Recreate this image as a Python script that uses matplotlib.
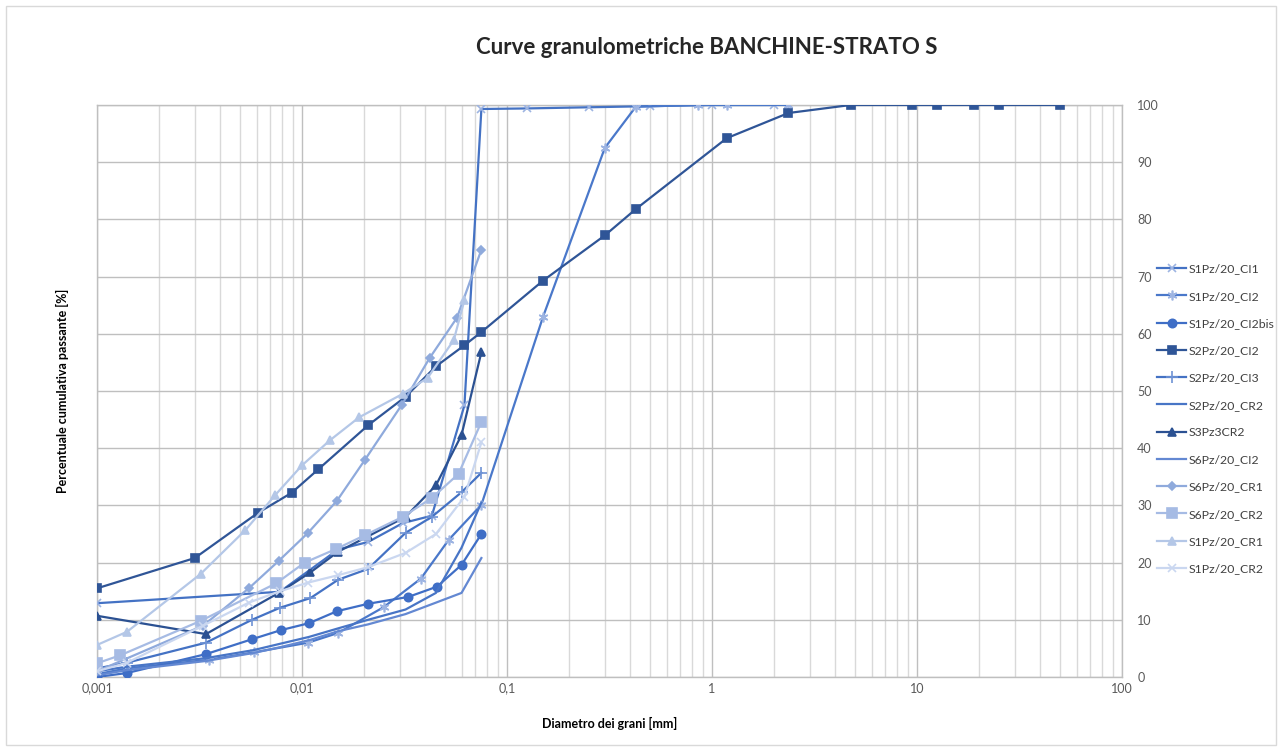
import matplotlib.pyplot as plt
from matplotlib.patches import Rectangle
from matplotlib.ticker import FixedLocator, NullFormatter

plt.rcParams['font.family'] = ['Lato', 'DejaVu Sans']

# diametri [mm] e passante [%]
d_ci1 = [0.001, 0.0078, 0.015, 0.021, 0.031, 0.043, 0.062, 0.075, 0.125, 0.25, 0.5, 1.0, 2.0]
p_ci1 = [12.9, 14.9, 22.3, 23.6, 26.9, 28.2, 47.5, 99.3, 99.4, 99.6, 99.8, 100, 100]

d_ci2 = [0.001, 0.0014, 0.0035, 0.0058, 0.0107, 0.015, 0.025, 0.038, 0.052, 0.075,
         0.15, 0.3, 0.425, 0.85, 1.18, 2.36]
p_ci2 = [0.5, 1.5, 3.0, 4.3, 6.0, 7.7, 12.2, 17.2, 24.0, 30.1, 63, 92.5, 99.7, 100, 100, 100]

d_ci2bis = [0.001, 0.0014, 0.0034, 0.0057, 0.0079, 0.0108, 0.0148, 0.021, 0.033, 0.0456, 0.06, 0.075]
p_ci2bis = [0.0, 0.7, 4.0, 6.6, 8.2, 9.4, 11.5, 12.8, 14.0, 15.8, 19.6, 25.0]

d_s2ci2 = [0.001, 0.003, 0.0061, 0.0089, 0.012, 0.021, 0.032, 0.045, 0.062, 0.075, 0.15, 0.3,
           0.425, 1.18, 2.36, 4.75, 9.5, 12.5, 19, 25, 50]
p_s2ci2 = [15.5, 20.8, 28.7, 32.2, 36.3, 44.0, 49.0, 54.3, 58.0, 60.3, 69.3, 77.2,
           81.8, 94.2, 98.6, 100, 100, 100, 100, 100, 100]

d_ci3 = [0.001, 0.0014, 0.0034, 0.0057, 0.0078, 0.011, 0.015, 0.021, 0.032, 0.043, 0.06, 0.075]
p_ci3 = [1.5, 2.5, 6.0, 10.0, 12.1, 13.8, 17.0, 18.9, 25.2, 28.0, 32.3, 35.7]

d_s2cr2 = [0.001, 0.0014, 0.0034, 0.0058, 0.0078, 0.0108, 0.015, 0.021, 0.032, 0.045, 0.06, 0.075]
p_s2cr2 = [1.0, 1.8, 3.3, 4.7, 5.8, 7.0, 8.5, 10.0, 11.8, 14.7, 22.6, 30.5]

d_s3cr2 = [0.001, 0.0034, 0.0077, 0.011, 0.015, 0.021, 0.032, 0.045, 0.06, 0.075]
p_s3cr2 = [10.7, 7.5, 14.7, 18.3, 21.9, 24.6, 28.0, 33.5, 42.3, 56.8]

d_s6ci2 = [0.001, 0.0014, 0.0034, 0.0058, 0.0078, 0.011, 0.015, 0.021, 0.032, 0.045, 0.06, 0.075]
p_s6ci2 = [0.3, 1.2, 2.8, 4.2, 5.2, 6.5, 8.0, 9.2, 11.0, 13.0, 14.7, 20.8]

d_s6cr1 = [0.001, 0.0033, 0.0055, 0.0077, 0.0107, 0.0148, 0.0203, 0.0307, 0.042, 0.057, 0.075]
p_s6cr1 = [1.0, 9.0, 15.5, 20.3, 25.2, 30.8, 38.0, 47.6, 55.8, 62.8, 74.7]

d_s6cr2 = [0.001, 0.0013, 0.0032, 0.0075, 0.0103, 0.0147, 0.0203, 0.031, 0.043, 0.058, 0.075]
p_s6cr2 = [2.4, 3.8, 9.8, 16.4, 20.0, 22.4, 24.8, 28.0, 31.3, 35.5, 44.6]

d_s1cr1 = [0.001, 0.0014, 0.0032, 0.0053, 0.0074, 0.010, 0.0137, 0.019, 0.031, 0.041, 0.055, 0.062]
p_s1cr1 = [5.6, 7.9, 18.0, 25.7, 31.8, 37.0, 41.4, 45.4, 49.5, 52.3, 58.9, 65.9]

d_s1cr2 = [0.001, 0.0014, 0.0033, 0.0055, 0.0078, 0.0107, 0.015, 0.021, 0.032, 0.045, 0.062, 0.075]
p_s1cr2 = [1.0, 2.5, 9.0, 13.0, 15.0, 16.5, 17.8, 19.2, 21.7, 25.0, 31.5, 41.0]

labels = ['S1Pz/20_CI1', 'S1Pz/20_CI2', 'S1Pz/20_CI2bis', 'S2Pz/20_CI2', 'S2Pz/20_CI3',
          'S2Pz/20_CR2', 'S3Pz3CR2', 'S6Pz/20_CI2', 'S6Pz/20_CR1', 'S6Pz/20_CR2',
          'S1Pz/20_CR1', 'S1Pz/20_CR2']
xs = [d_ci1, d_ci2, d_ci2bis, d_s2ci2, d_ci3, d_s2cr2, d_s3cr2, d_s6ci2, d_s6cr1, d_s6cr2, d_s1cr1, d_s1cr2]
ys = [p_ci1, p_ci2, p_ci2bis, p_s2ci2, p_ci3, p_s2cr2, p_s3cr2, p_s6ci2, p_s6cr1, p_s6cr2, p_s1cr1, p_s1cr2]

colors = ['#4472C4', '#4A78CA', '#3F6EC6', '#2F5597', '#4472C4', '#4875C6',
          '#2B5192', '#6388D2', '#8FAADC', '#A6BBE4', '#B4C7E7', '#CAD7F0']
markers = ['x', (6, 2, 0), 'o', 's', '+', None, '^', None, 'D', 's', '^', 'x']
msizes = [6, 7, 6, 6, 8, 0, 6, 0, 4, 7, 6, 6]
mcolors = ['#9DB4E2', '#9DB4E2', '#3F6EC6', '#2F5597', '#6E92D4', '#4875C6',
           '#2B5192', '#6388D2', '#8FAADC', '#A6BBE4', '#B4C7E7', '#CAD7F0']

fig = plt.figure(figsize=(12.82, 7.51), dpi=100)
ax = fig.add_axes([97 / 1282, 1 - 677 / 751, (1122 - 97) / 1282, (677 - 105) / 751])

for i in range(len(labels)):
    ax.plot(xs[i], ys[i], color=colors[i], lw=1.6, marker=markers[i], ms=msizes[i],
            mfc=mcolors[i], mec=mcolors[i], mew=1.2, label=labels[i], zorder=3)

ax.set_xscale('log')
ax.set_xlim(0.001, 100)
ax.set_ylim(0, 100)
major = [0.001, 0.01, 0.1, 1, 10, 100]
minor = [m * 10.0 ** e for e in range(-3, 2) for m in range(2, 10)]
ax.xaxis.set_major_locator(FixedLocator(major))
ax.xaxis.set_minor_locator(FixedLocator(minor))
ax.xaxis.set_minor_formatter(NullFormatter())
ax.set_xticklabels(['0,001', '0,01', '0,1', '1', '10', '100'])
ax.set_yticks(range(0, 101, 10))
ax.yaxis.tick_right()
ax.tick_params(which='both', length=0, labelsize=9, colors='#595959')
ax.tick_params(axis='x', pad=4)
ax.tick_params(axis='y', pad=11)
ax.grid(which='major', color='#BFBFBF', lw=1.0, zorder=0)
ax.grid(which='minor', axis='x', color='#D9D9D9', lw=1.0, zorder=0)
for s in ax.spines.values():
    s.set_color('#BFBFBF')
    s.set_linewidth(1.0)

ax.set_xlabel('Diametro dei grani [mm]', fontsize=9, fontweight='bold', labelpad=16)
ax.set_ylabel('Percentuale cumulativa passante [%]', fontsize=9, fontweight='bold', labelpad=20)
ax.yaxis.set_label_position('left')

fig.text(707 / 1282, 1 - 47 / 751, 'Curve granulometriche BANCHINE-STRATO S',
         ha='center', va='center', fontsize=16, fontweight='bold', color='#262626')

fig.legend(loc='upper left', bbox_to_anchor=(1155 / 1282, 1 - 261 / 751), frameon=False,
           fontsize=8.8, labelspacing=1.33, handlelength=2.3, handletextpad=0.25,
           borderaxespad=0, borderpad=0.2, labelcolor='#404040')

fig.patches.append(Rectangle((6 / 1282, 6 / 751), 1 - 12 / 1282, 1 - 12 / 751,
                             transform=fig.transFigure, fill=False, edgecolor='#D9D9D9', lw=1))

fig.savefig('out.png', dpi=100)
